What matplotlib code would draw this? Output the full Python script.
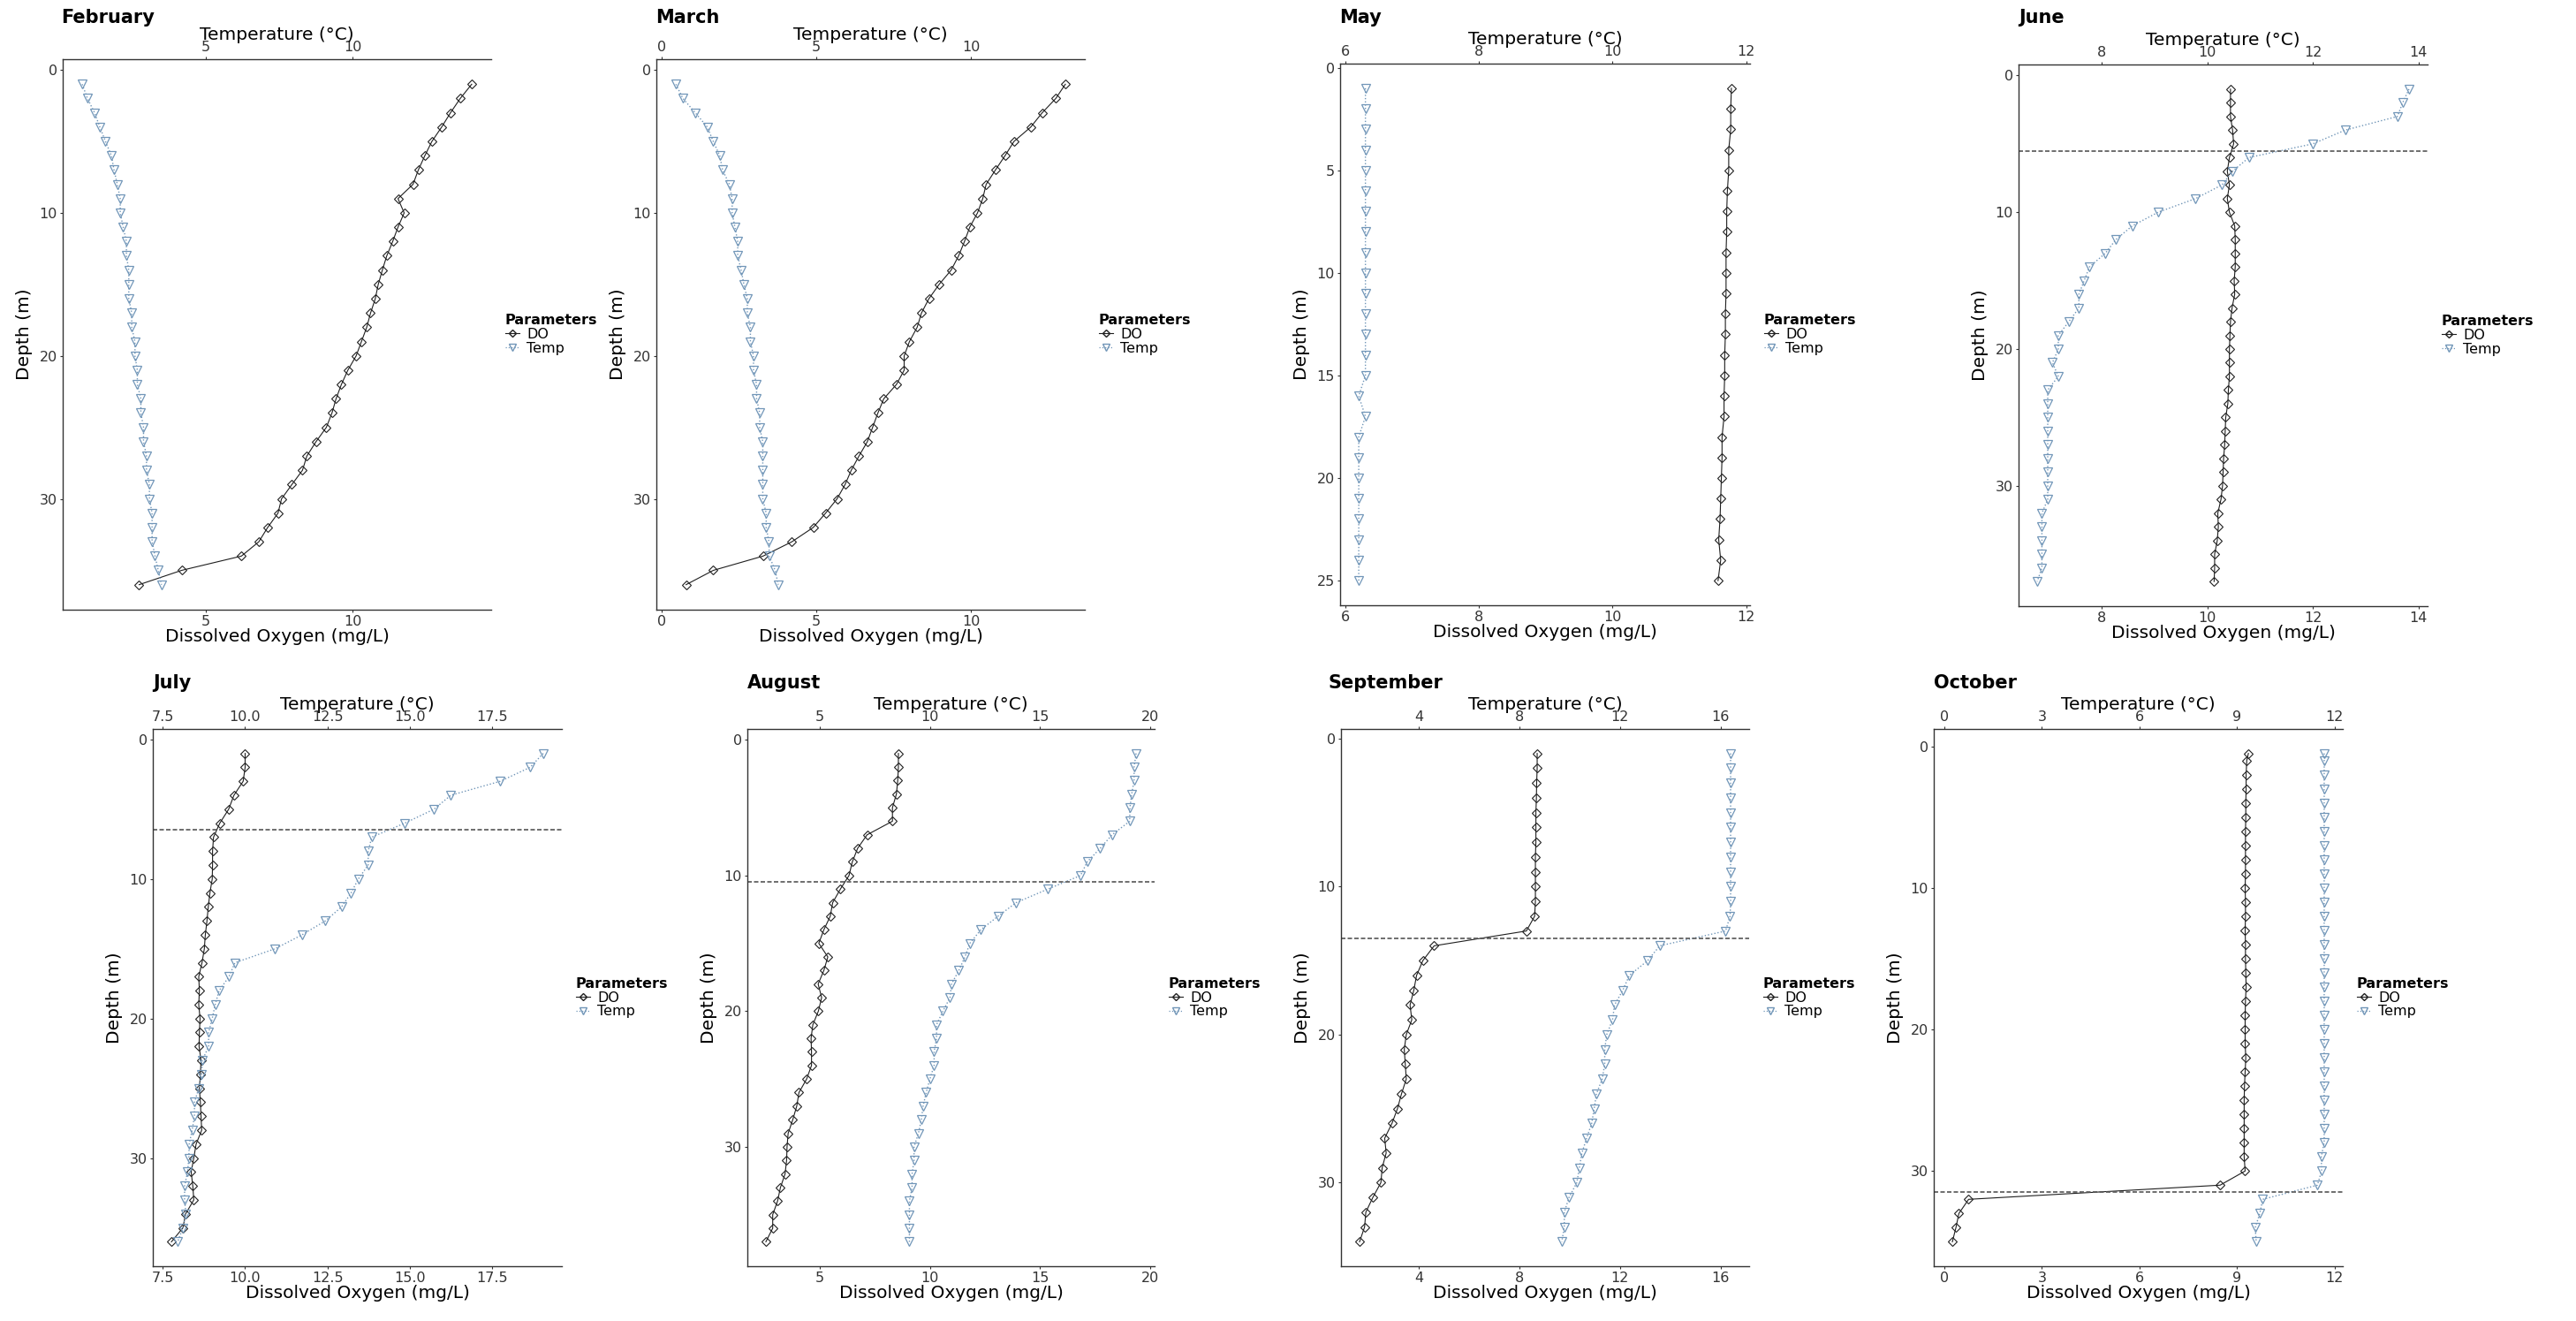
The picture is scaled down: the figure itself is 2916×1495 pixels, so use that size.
import matplotlib
matplotlib.use("Agg")
import matplotlib.pyplot as plt
from matplotlib.lines import Line2D

plt.rcParams['font.family'] = ['DejaVu Sans']

# ---- data: depth (m), dissolved oxygen (mg/L), temperature (deg C) ----
feb_depth = [1, 2, 3, 4, 5, 6, 7, 8, 9, 10, 11, 12, 13, 14, 15, 16, 17, 18,
             19, 20, 21, 22, 23, 24, 25, 26, 27, 28, 29, 30, 31, 32, 33, 34, 35, 36]
feb_do = [14.03, 13.64, 13.31, 13.01, 12.68, 12.44, 12.22, 12.04, 11.53, 11.74, 11.53, 11.35,
          11.15, 11.00, 10.86, 10.76, 10.60, 10.47, 10.29, 10.11, 9.83, 9.61, 9.43, 9.29,
          9.10, 8.75, 8.44, 8.29, 7.93, 7.58, 7.46, 7.11, 6.81, 6.22, 4.19, 2.75]
feb_temp = [0.82, 1.00, 1.24, 1.42, 1.61, 1.81, 1.90, 2.01, 2.11, 2.11, 2.21, 2.32,
            2.32, 2.40, 2.40, 2.40, 2.50, 2.50, 2.61, 2.61, 2.69, 2.69, 2.81, 2.81,
            2.90, 2.90, 3.00, 3.00, 3.10, 3.10, 3.19, 3.19, 3.19, 3.29, 3.40, 3.51]

mar_depth = [1, 2, 3, 4, 5, 6, 7, 8, 9, 10, 11, 12, 13, 14, 15, 16, 17, 18,
             19, 20, 21, 22, 23, 24, 25, 26, 27, 28, 29, 30, 31, 32, 33, 34, 35, 36]
mar_do = [13.05, 12.74, 12.30, 11.93, 11.39, 11.10, 10.79, 10.49, 10.38, 10.21, 9.96, 9.79,
          9.60, 9.36, 8.97, 8.64, 8.40, 8.26, 8.01, 7.84, 7.84, 7.59, 7.18, 6.99,
          6.82, 6.65, 6.38, 6.13, 5.93, 5.67, 5.30, 4.90, 4.21, 3.28, 1.67, 0.79]
mar_temp = [0.46, 0.69, 1.09, 1.48, 1.67, 1.88, 1.97, 2.19, 2.28, 2.28, 2.37, 2.46,
            2.46, 2.57, 2.66, 2.77, 2.77, 2.87, 2.87, 2.97, 2.97, 3.07, 3.07, 3.17,
            3.17, 3.27, 3.27, 3.27, 3.27, 3.27, 3.38, 3.38, 3.47, 3.48, 3.67, 3.77]

may_depth = [1, 2, 3, 4, 5, 6, 7, 8, 9, 10, 11, 12, 13, 14, 15, 16, 17, 18,
             19, 20, 21, 22, 23, 24, 25]
may_do = [11.78, 11.77, 11.77, 11.74, 11.74, 11.72, 11.71, 11.71, 11.70, 11.70, 11.70, 11.69,
          11.69, 11.68, 11.68, 11.67, 11.67, 11.64, 11.64, 11.63, 11.62, 11.61, 11.59, 11.62,
          11.58]
may_temp = [6.3, 6.3, 6.3, 6.3, 6.3, 6.3, 6.3, 6.3, 6.3, 6.3, 6.3, 6.3,
            6.3, 6.3, 6.3, 6.2, 6.3, 6.2, 6.2, 6.2, 6.2, 6.2, 6.2, 6.2, 6.2]

jun_depth = [1, 2, 3, 4, 5, 6, 7, 8, 9, 10, 11, 12, 13, 14, 15, 16, 17, 18,
             19, 20, 21, 22, 23, 24, 25, 26, 27, 28, 29, 30, 31, 32, 33, 34, 35, 36, 37]
jun_do = [10.44, 10.44, 10.44, 10.48, 10.50, 10.42, 10.38, 10.42, 10.38, 10.42, 10.52, 10.53,
          10.53, 10.53, 10.51, 10.52, 10.47, 10.44, 10.43, 10.42, 10.42, 10.42, 10.40, 10.39,
          10.35, 10.34, 10.33, 10.31, 10.30, 10.29, 10.26, 10.20, 10.21, 10.19, 10.14, 10.14,
          10.13]
jun_temp = [13.82, 13.70, 13.60, 12.61, 12.00, 10.79, 10.48, 10.28, 9.78, 9.07, 8.58, 8.27,
            8.07, 7.77, 7.67, 7.57, 7.57, 7.38, 7.18, 7.18, 7.07, 7.18, 6.98, 6.98,
            6.98, 6.98, 6.98, 6.98, 6.98, 6.98, 6.98, 6.87, 6.87, 6.87, 6.87, 6.87, 6.78]

jul_depth = [1, 2, 3, 4, 5, 6, 7, 8, 9, 10, 11, 12, 13, 14, 15, 16, 17, 18,
             19, 20, 21, 22, 23, 24, 25, 26, 27, 28, 29, 30, 31, 32, 33, 34, 35, 36]
jul_do = [10.00, 10.00, 9.94, 9.66, 9.50, 9.23, 9.04, 9.01, 9.01, 9.00, 8.93, 8.88,
          8.84, 8.79, 8.76, 8.69, 8.59, 8.61, 8.59, 8.63, 8.61, 8.60, 8.66, 8.64,
          8.61, 8.64, 8.66, 8.68, 8.51, 8.44, 8.36, 8.41, 8.44, 8.19, 8.11, 7.76]
jul_temp = [19.06, 18.66, 17.75, 16.25, 15.74, 14.85, 13.85, 13.74, 13.74, 13.44, 13.22, 12.93,
            12.44, 11.73, 10.91, 9.69, 9.51, 9.21, 9.09, 9.00, 8.89, 8.89, 8.70, 8.68,
            8.59, 8.46, 8.46, 8.39, 8.30, 8.29, 8.25, 8.16, 8.16, 8.20, 8.11, 7.95]

aug_depth = [1, 2, 3, 4, 5, 6, 7, 8, 9, 10, 11, 12, 13, 14, 15, 16, 17, 18,
             19, 20, 21, 22, 23, 24, 25, 26, 27, 28, 29, 30, 31, 32, 33, 34, 35, 36, 37]
aug_do = [8.57, 8.57, 8.54, 8.48, 8.30, 8.30, 7.15, 6.72, 6.48, 6.33, 5.94, 5.59,
          5.48, 5.19, 4.96, 5.37, 5.19, 4.93, 5.09, 4.94, 4.69, 4.61, 4.63, 4.63,
          4.41, 4.06, 3.96, 3.78, 3.57, 3.52, 3.50, 3.43, 3.22, 3.09, 2.87, 2.87, 2.56]
aug_temp = [19.35, 19.26, 19.26, 19.15, 19.07, 19.06, 18.26, 17.72, 17.13, 16.83, 15.35, 13.91,
            13.09, 12.31, 11.81, 11.59, 11.31, 10.98, 10.91, 10.59, 10.30, 10.30, 10.19, 10.19,
            10.00, 9.83, 9.69, 9.61, 9.48, 9.28, 9.28, 9.19, 9.19, 9.07, 9.07, 9.07, 9.07]

sep_depth = [1, 2, 3, 4, 5, 6, 7, 8, 9, 10, 11, 12, 13, 14, 15, 16, 17, 18,
             19, 20, 21, 22, 23, 24, 25, 26, 27, 28, 29, 30, 31, 32, 33, 34]
sep_do = [8.70, 8.70, 8.68, 8.67, 8.65, 8.65, 8.65, 8.63, 8.63, 8.63, 8.63, 8.60,
          8.27, 4.60, 4.15, 3.90, 3.79, 3.64, 3.71, 3.49, 3.41, 3.45, 3.49, 3.30,
          3.14, 2.92, 2.63, 2.69, 2.53, 2.48, 2.16, 1.88, 1.83, 1.63]
sep_temp = [16.40, 16.40, 16.40, 16.40, 16.40, 16.40, 16.40, 16.40, 16.40, 16.40, 16.40, 16.38,
            16.20, 13.58, 13.10, 12.37, 12.11, 11.78, 11.70, 11.47, 11.39, 11.39, 11.29, 11.06,
            10.97, 10.87, 10.67, 10.48, 10.38, 10.28, 9.97, 9.78, 9.78, 9.68]

oct_depth = [0.5, 1, 2, 3, 4, 5, 6, 7, 8, 9, 10, 11, 12, 13, 14, 15, 16, 17, 18,
             19, 20, 21, 22, 23, 24, 25, 26, 27, 28, 29, 30, 31, 32, 33, 34, 35]
oct_do = [9.35, 9.30, 9.28, 9.28, 9.27, 9.27, 9.26, 9.26, 9.26, 9.26, 9.25, 9.26,
          9.26, 9.25, 9.26, 9.26, 9.27, 9.28, 9.26, 9.25, 9.25, 9.25, 9.27, 9.25,
          9.23, 9.22, 9.22, 9.22, 9.22, 9.22, 9.25, 8.48, 0.75, 0.45, 0.36, 0.25]
oct_temp = [11.68, 11.68, 11.68, 11.68, 11.68, 11.68, 11.68, 11.68, 11.68, 11.68, 11.68, 11.68,
            11.68, 11.68, 11.68, 11.68, 11.68, 11.68, 11.68, 11.68, 11.68, 11.68, 11.68, 11.68,
            11.68, 11.68, 11.68, 11.68, 11.68, 11.59, 11.60, 11.47, 9.79, 9.70, 9.56, 9.59]

months = ['February', 'March', 'May', 'June', 'July', 'August', 'September', 'October']
depths = [feb_depth, mar_depth, may_depth, jun_depth, jul_depth, aug_depth, sep_depth, oct_depth]
do_vals = [feb_do, mar_do, may_do, jun_do, jul_do, aug_do, sep_do, oct_do]
temp_vals = [feb_temp, mar_temp, may_temp, jun_temp, jul_temp, aug_temp, sep_temp, oct_temp]
# thermocline depth (dashed line), None when not drawn
thermocline = [None, None, None, 5.5, 6.5, 10.5, 13.5, 31.5]

x_ticks = [[5, 10], [0, 5, 10], [6, 8, 10, 12], [8, 10, 12, 14],
           [7.5, 10.0, 12.5, 15.0, 17.5], [5, 10, 15, 20], [4, 8, 12, 16], [0, 3, 6, 9, 12]]
x_ticklabels = [['5', '10'], ['0', '5', '10'], ['6', '8', '10', '12'], ['8', '10', '12', '14'],
                ['7.5', '10.0', '12.5', '15.0', '17.5'], ['5', '10', '15', '20'],
                ['4', '8', '12', '16'], ['0', '3', '6', '9', '12']]
y_ticks = [[0, 10, 20, 30], [0, 10, 20, 30], [0, 5, 10, 15, 20, 25], [0, 10, 20, 30],
           [0, 10, 20, 30], [0, 10, 20, 30], [0, 10, 20, 30], [0, 10, 20, 30]]

# ---- layout in pixels (left, right, top, bottom) and title positions ----
W, H = 2916, 1495
boxes = [(71, 556, 67, 690), (743, 1228, 67, 690), (1517, 1981, 72, 685), (2285, 2748, 73, 686),
         (173, 636, 825, 1433), (846, 1307, 825, 1433), (1518, 1980, 825, 1433), (2189, 2652, 825, 1433)]
title_xy = [(69, 20), (742, 20), (1516, 20), (2285, 20),
            (173, 773), (846, 773), (1504, 773), (2189, 773)]

DO_COL = '#1f1f1f'
TEMP_COL = '#7196b8'
AX_COL = '#333333'

fig = plt.figure(figsize=(W / 100, H / 100), dpi=100)

for i, name in enumerate(months):
    l, r, t, b = boxes[i]
    ax = fig.add_axes([l / W, 1 - b / H, (r - l) / W, (b - t) / H])

    ax.plot(do_vals[i], depths[i], color=DO_COL, lw=0.8, marker='D', ms=5,
            mfc='none', mec=DO_COL, mew=0.8)
    ax.plot(temp_vals[i], depths[i], color=TEMP_COL, lw=1.0, ls=':', marker='v', ms=7.5,
            mfc='none', mec=TEMP_COL, mew=0.9)
    if thermocline[i] is not None:
        ax.axhline(thermocline[i], color='#555555', lw=1.2, ls=(0, (3, 1.5)))

    ax.invert_yaxis()
    ax.set_yticks(y_ticks[i])
    ax.set_xticks(x_ticks[i])
    ax.set_xticklabels(x_ticklabels[i])

    for s in ['right', 'top']:
        ax.spines[s].set_visible(False)
    for s in ['left', 'bottom']:
        ax.spines[s].set_color(AX_COL)
        ax.spines[s].set_linewidth(1.0)
    ax.tick_params(labelsize=11.5, length=2.5, width=0.8, pad=2, color=AX_COL, labelcolor='#333333')

    ax.set_ylabel('Depth (m)', fontsize=14.5, labelpad=5)
    ax.set_xlabel('Dissolved Oxygen (mg/L)', fontsize=14.5, labelpad=0)

    sec = ax.secondary_xaxis('top')
    sec.set_xticks(x_ticks[i])
    sec.set_xticklabels(x_ticklabels[i])
    sec.spines['top'].set_color(AX_COL)
    sec.spines['top'].set_linewidth(1.0)
    sec.tick_params(labelsize=11.5, length=2.5, width=0.8, pad=1.5, color=AX_COL, labelcolor='#333333')
    sec.set_xlabel('Temperature (°C)', fontsize=14.5, labelpad=1)

    handles = [Line2D([], [], color=DO_COL, lw=0.8, marker='D', ms=4.5, mfc='none', mec=DO_COL),
               Line2D([], [], color=TEMP_COL, lw=0.9, ls=':', marker='v', ms=6, mfc='none', mec=TEMP_COL)]
    ax.legend(handles, ['DO', 'Temp'], title='Parameters', loc='center left',
              bbox_to_anchor=(1, 0.5), frameon=False, borderpad=0, borderaxespad=1.0,
              handlelength=1.0, handletextpad=0.5, labelspacing=0.05, fontsize=11.5,
              title_fontproperties={'weight': 'bold', 'size': 11.5}, alignment='left')

    tx, ty = title_xy[i]
    fig.text(tx / W, 1 - ty / H, name, fontsize=15, fontweight='bold', ha='left', va='center')

fig.savefig('out.png', dpi=100)
